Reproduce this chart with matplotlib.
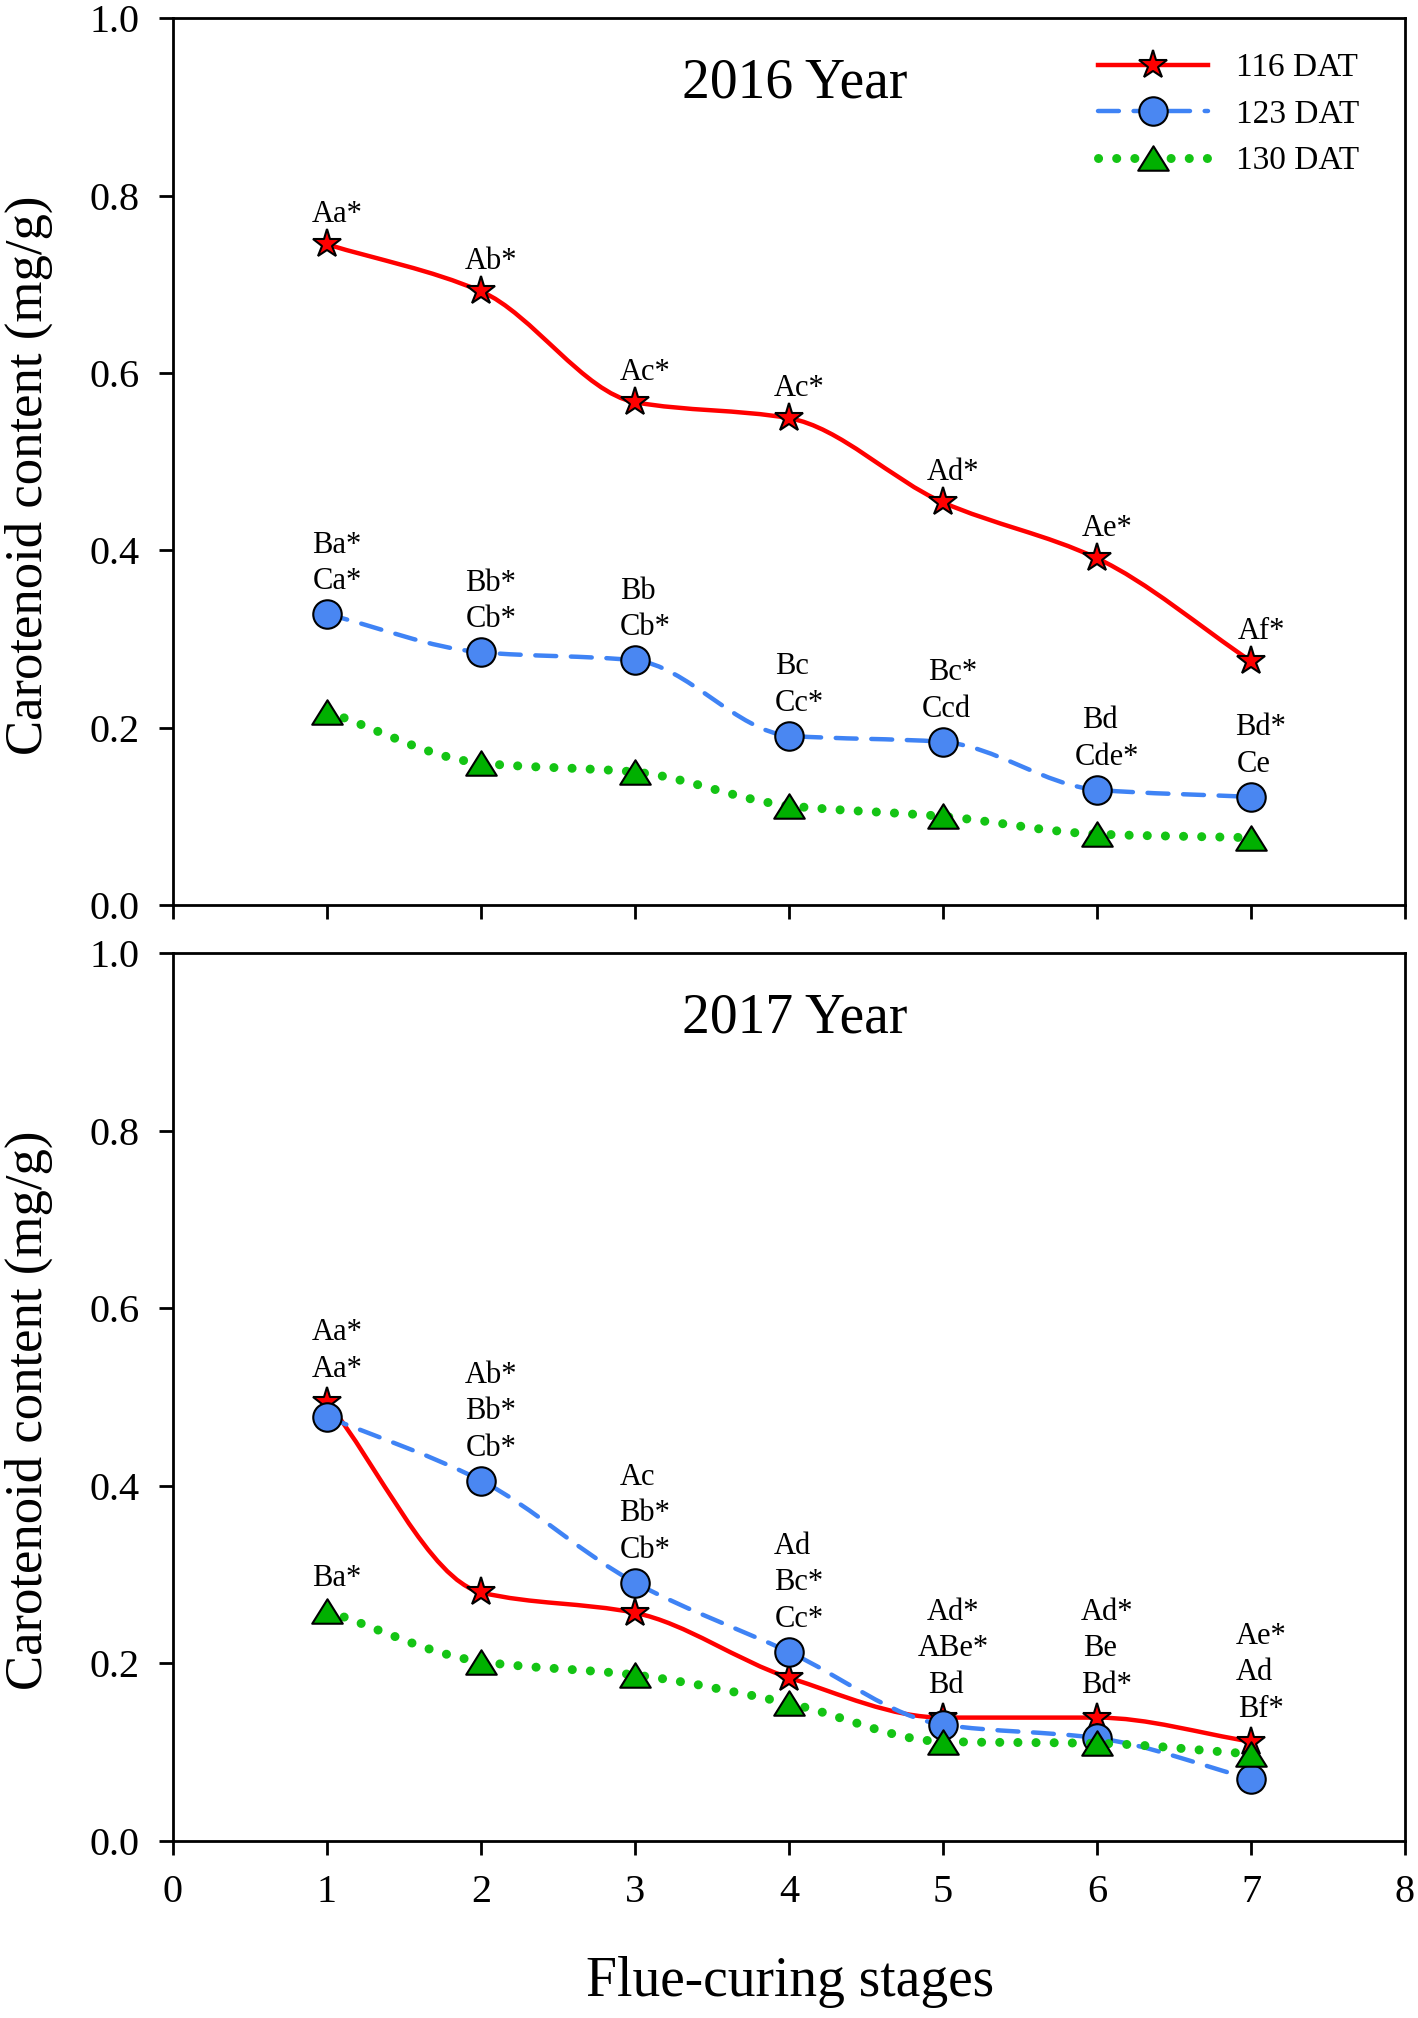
import numpy as np
import matplotlib
matplotlib.use('Agg')
import matplotlib.pyplot as plt
from matplotlib.path import Path
from matplotlib.patches import PathPatch
from matplotlib.lines import Line2D

plt.rcParams['font.family'] = ['Liberation Serif', 'DejaVu Serif']

###############################################################################
# data
stages = [1, 2, 3, 4, 5, 6, 7]
series_names = ['116 DAT', '123 DAT', '130 DAT']

dat116_2016 = [0.745, 0.692, 0.567, 0.549, 0.454, 0.391, 0.275]
dat123_2016 = [0.328, 0.285, 0.276, 0.191, 0.184, 0.130, 0.122]
dat130_2016 = [0.218, 0.160, 0.150, 0.112, 0.100, 0.080, 0.076]

dat116_2017 = [0.495, 0.280, 0.257, 0.184, 0.139, 0.139, 0.112]
dat123_2017 = [0.478, 0.406, 0.291, 0.213, 0.131, 0.116, 0.070]
dat130_2017 = [0.259, 0.202, 0.187, 0.155, 0.112, 0.110, 0.098]

# significance letters
lab116_2016 = ['Aa*', 'Ab*', 'Ac*', 'Ac*', 'Ad*', 'Ae*', 'Af*']
lab123_2016 = ['Ba*\nCa*', 'Bb*\nCb*', 'Bb\nCb*', 'Bc\nCc*', 'Bc*\nCcd', 'Bd\nCde*', 'Bd*\nCe']
lab_top_2017 = ['Aa*\nAa*', 'Ab*\nBb*\nCb*', 'Ac\nBb*\nCb*', 'Ad\nBc*\nCc*',
                'Ad*\nABe*\nBd', 'Ad*\nBe\nBd*', 'Ae*\nAd\nBf*']
lab130_2017 = ['Ba*', '', '', '', '', '', '']

xticks = [0, 1, 2, 3, 4, 5, 6, 7, 8]
yticks = [0.0, 0.2, 0.4, 0.6, 0.8, 1.0]

###############################################################################
tri = Path([(-1, -0.8), (1, -0.8), (0, 0.8), (-1, -0.8)], closed=True)
styles = [
    dict(color='#ff0000', lw=3.2, ls='-', marker='*', ms=21, mfc='#ff0000'),
    dict(color='#3f83f5', lw=3.2, ls=(0, (4.7, 3.3)), marker='o', ms=20.5, mfc='#4a87f2'),
    dict(color='#14c414', lw=6.5, ls=(0, (0.01, 2.0)), marker=tri, ms=22, mfc='#00b000'),
]


def smooth_path(x, y):
    # monotone cubic (pchip-like) drawn as bezier segments
    x = np.asarray(x, float)
    y = np.asarray(y, float)
    h = np.diff(x)
    d = np.diff(y) / h
    m = np.zeros_like(y)
    m[0], m[-1] = d[0], d[-1]
    for k in range(1, len(y) - 1):
        if d[k - 1] * d[k] > 0:
            m[k] = 2.0 / (1.0 / d[k - 1] + 1.0 / d[k])
    verts = [(x[0], y[0])]
    codes = [Path.MOVETO]
    for i in range(len(x) - 1):
        verts += [(x[i] + h[i] / 3, y[i] + m[i] * h[i] / 3),
                  (x[i + 1] - h[i] / 3, y[i + 1] - m[i + 1] * h[i] / 3),
                  (x[i + 1], y[i + 1])]
        codes += [Path.CURVE4] * 3
    return Path(verts, codes)


def put_label(ax, x, y, text, base_dy, pitch=36.5):
    lines = text.split('\n')
    n = len(lines)
    for k, line in enumerate(lines):
        if not line:
            continue
        dy = base_dy + (n - 1 - k) * pitch
        dx = 3 + (7 if line.endswith('*') else 0)
        ax.annotate(line, (x, y), xytext=(dx, dy), textcoords='offset pixels',
                    ha='center', va='baseline', fontsize=22, zorder=10)


def draw_series(ax, values):
    for i, (vals, st) in enumerate(zip(values, styles)):
        patch = PathPatch(smooth_path(stages, vals), fill=False, edgecolor=st['color'],
                          lw=st['lw'], linestyle=st['ls'], capstyle='round',
                          joinstyle='round', zorder=2 + 2 * i)
        ax.add_patch(patch)
        ax.plot(stages, vals, linestyle='none', marker=st['marker'], ms=st['ms'],
                mfc=st['mfc'], mec='black', mew=1.5, zorder=3 + 2 * i)


def style_axes(ax, show_xlabels):
    ax.set_xlim(0, 8)
    ax.set_ylim(0, 1)
    ax.set_xticks(xticks)
    ax.set_yticks(yticks)
    ax.set_yticklabels(['%.1f' % v for v in yticks])
    ax.tick_params(direction='out', length=10, width=2, labelsize=29, pad=14,
                   labelbottom=show_xlabels)
    for sp in ax.spines.values():
        sp.set_linewidth(2)
    ax.set_ylabel('Carotenoid content (mg/g)', fontsize=38)
    ax.yaxis.set_label_coords(-0.0975, 0.485)


fig = plt.figure(figsize=(14.18, 20.18), dpi=100)
ax1 = fig.add_axes([0.1220, 0.5515, 0.8688, 0.4395])
ax2 = fig.add_axes([0.1220, 0.0877, 0.8688, 0.4400])

# ---- 2016
draw_series(ax1, [dat116_2016, dat123_2016, dat130_2016])
for x, v, t in zip(stages, dat116_2016, lab116_2016):
    put_label(ax1, x, v, t, 22)
for x, v, t in zip(stages, dat123_2016, lab123_2016):
    put_label(ax1, x, v, t, 25)
style_axes(ax1, False)
ax1.text(0.505, 0.911, '2016 Year', transform=ax1.transAxes, ha='center',
         va='baseline', fontsize=40)

handles = [Line2D([], [], color=st['color'], lw=st['lw'], linestyle=st['ls'],
                  marker=st['marker'], ms=st['ms'], mfc=st['mfc'], mec='black',
                  mew=1.5, dash_capstyle='round') for st in styles]
ax1.legend(handles, series_names, loc='upper left', bbox_to_anchor=(0.7506, 0.961),
           frameon=False, fontsize=24, handlelength=3.3, handletextpad=0.84,
           labelspacing=0.48, borderpad=0, borderaxespad=0, numpoints=1)

# ---- 2017
draw_series(ax2, [dat116_2017, dat123_2017, dat130_2017])
top_anchor = np.max([dat116_2017, dat123_2017, dat130_2017], axis=0)
for x, v, t in zip(stages, top_anchor, lab_top_2017):
    put_label(ax2, x, v, t, 25)
for x, v, t in zip(stages, dat130_2017, lab130_2017):
    put_label(ax2, x, v, t, 25)
style_axes(ax2, True)
ax2.text(0.505, 0.911, '2017 Year', transform=ax2.transAxes, ha='center',
         va='baseline', fontsize=40)
ax2.set_xlabel('Flue-curing stages', fontsize=40)
ax2.xaxis.set_label_coords(0.501, -0.130)

fig.savefig('out.png', dpi=100)
